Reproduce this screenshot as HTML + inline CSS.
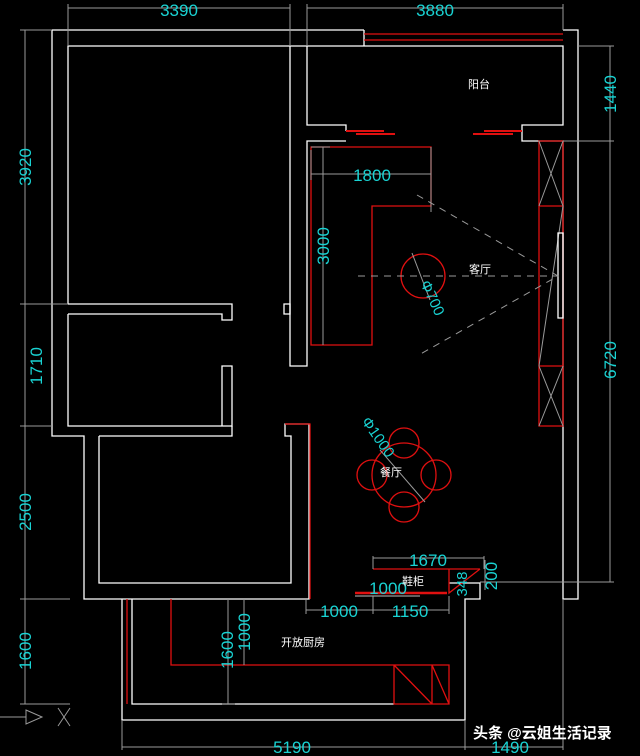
<!DOCTYPE html>
<html><head><meta charset="utf-8"><style>
html,body{margin:0;padding:0;background:#000;}
svg{display:block;}
.w{stroke:#fff;stroke-width:1.3;fill:none;}
.r{stroke:#e01010;stroke-width:1.3;fill:none;}
.g{stroke:#9a9a9a;stroke-width:1;fill:none;}
.d{stroke:#9a9a9a;stroke-width:1;stroke-dasharray:7,6;fill:none;}
.t{fill:#19d3d3;font-family:"Liberation Sans",sans-serif;font-size:17px;}
.l{fill:#fff;font-family:"Liberation Sans","Noto Sans CJK SC",sans-serif;font-size:11px;}
</style></head><body>
<svg width="640" height="756" viewBox="0 0 640 756">
<!-- outer walls -->
<path class="w" d="M52 30 H364 M364 30 V46 M52 30 V426"/>
<path class="r" d="M364 34 H563 M364 40 H563"/>
<path class="w" d="M563 30 H578 V599 H563 V141 H522 V125 H563 V46 H307 V125 H346 V131 M346 141 H307 V366 H290 V46 H68 V304 M68 46 H364"/>
<path class="w" d="M68 304 H232 V320 H222 V314 H68 M68 314 V426 H232 V366 H222 V426"/>
<path class="w" d="M52 426 V436 H84 V599 H122 M99 436 H232 V426 M99 436 V583 H291 V436 H285 V424 H309 V599 H122"/>
<path class="w" d="M284 304 H290 V314 H284 Z"/>
<path class="r" d="M285 424 H310 V599"/>
<!-- balcony doors -->
<path class="r" d="M346 131 H384 M356 134 H395 M522 131 H484 M513 134 H473" style="stroke-width:2"/>
<!-- kitchen -->
<path class="w" d="M122 599 V720 H465 V599 H480 V583 H449 M132 599 V704 H394"/>
<path class="r" d="M127 599 V704"/>
<path class="r" d="M171 599 V665 H449 V704 H394 V665 M432 665 V704 M394 665 L432 704 M432 665 L449 704"/>
<!-- shoe cabinet -->
<path class="r" d="M373 569 H480 M449 569 V593 L480 569"/>
<path class="r" d="M355 593 H447" style="stroke-width:2.5"/>
<path class="w" d="M355 596 H420" style="stroke-width:0.8"/>
<!-- living TV cabinet -->
<path class="r" d="M539 141 H563 V426 H539 Z M539 206 H563 M539 366 H563"/>
<path class="g" d="M539 141 L563 206 M563 141 L539 206 M539 366 L563 426 M563 366 L539 426 M563 206 L539 366"/>
<path class="w" d="M558 233 H563 V318 H558 Z"/>
<!-- sofa -->
<path class="r" d="M311 147 H431 V206 H372 V345 H311 Z"/>
<circle class="r" cx="423" cy="276" r="22"/>
<path class="d" d="M358 276 H558 M417 195 L558 276 L417 356"/>
<path class="g" d="M412 253 L430 300"/>
<!-- dining -->
<circle class="r" cx="404" cy="475" r="32"/>
<circle class="r" cx="404" cy="443" r="15"/><circle class="r" cx="404" cy="507" r="15"/>
<circle class="r" cx="372" cy="475" r="15"/><circle class="r" cx="436" cy="475" r="15"/>
<path class="g" d="M380 450 L425 502"/>
<!-- dimensions -->
<path class="g" d="M68 8 H290 M307 8 H563 M68 4 V46 M290 4 V46 M307 4 V46 M563 4 V30"/>
<path class="g" d="M25 30 V599 M25 704 V599 M20 30 H52 M20 304 H68 M20 426 H52 M20 599 H70 M20 704 H70"/>
<path class="g" d="M610 46 V582 M578 46 H614 M563 141 H614 M480 582 H614"/>
<path class="g" d="M122 747 H563 M122 720 V750 M465 720 V750 M563 600 V750"/>
<path class="g" d="M311 174 H431 M311 150 V180 M431 147 V212 M323 147 V345 M311 147 H330"/>
<path class="g" d="M373 558 H484 M373 556 V569 M484 556 V569 M306 610 H449 M306 600 V614 M373 596 V614 M449 596 V614"/>
<path class="g" d="M228 599 V704 M244 599 V665 M222 704 H235"/>
<path class="g" d="M485 590 V560"/>
<text class="t" x="179" y="16" text-anchor="middle">3390</text>
<text class="t" x="435" y="16" text-anchor="middle">3880</text>
<text class="t" transform="translate(31 167) rotate(-90)" text-anchor="middle">3920</text>
<text class="t" transform="translate(42 366) rotate(-90)" text-anchor="middle">1710</text>
<text class="t" transform="translate(31 512) rotate(-90)" text-anchor="middle">2500</text>
<text class="t" transform="translate(31 651) rotate(-90)" text-anchor="middle">1600</text>
<text class="t" transform="translate(616 94) rotate(-90)" text-anchor="middle">1440</text>
<text class="t" transform="translate(616 360) rotate(-90)" text-anchor="middle">6720</text>
<text class="t" x="372" y="181" text-anchor="middle">1800</text>
<text class="t" transform="translate(329 246) rotate(-90)" text-anchor="middle">3000</text>
<text class="t" transform="translate(428 300) rotate(65)" text-anchor="middle" style="font-size:15px">Φ700</text>
<text class="t" transform="translate(374 440) rotate(55)" text-anchor="middle" style="font-size:15px">Φ1000</text>
<text class="t" x="428" y="566" text-anchor="middle">1670</text>
<text class="t" x="388" y="594" text-anchor="middle">1000</text>
<text class="t" x="339" y="617" text-anchor="middle">1000</text>
<text class="t" x="410" y="617" text-anchor="middle">1150</text>
<text class="t" transform="translate(467 584) rotate(-90)" text-anchor="middle" style="font-size:15px">348</text>
<text class="t" transform="translate(497 576) rotate(-90)" text-anchor="middle">200</text>
<text class="t" transform="translate(233 650) rotate(-90)" text-anchor="middle">1600</text>
<text class="t" transform="translate(250 632) rotate(-90)" text-anchor="middle">1000</text>
<text class="t" x="292" y="753" text-anchor="middle">5190</text>
<text class="t" x="510" y="753" text-anchor="middle">1490</text>
<text class="l" x="468" y="88">阳台</text>
<text class="l" x="469" y="273">客厅</text>
<text class="l" x="380" y="476">餐厅</text>
<text class="l" x="402" y="585">鞋柜</text>
<text class="l" x="281" y="646">开放厨房</text>
<path class="g" d="M0 717 H26 M26 710 L42 717 L26 724 Z M58 708 L70 726 M70 708 L58 726"/>
<text x="473" y="738" style="fill:#fff;font-family:'Liberation Sans','Noto Sans CJK SC',sans-serif;font-size:15px;font-weight:bold">头条 @云姐生活记录</text>
</svg>
</body></html>
